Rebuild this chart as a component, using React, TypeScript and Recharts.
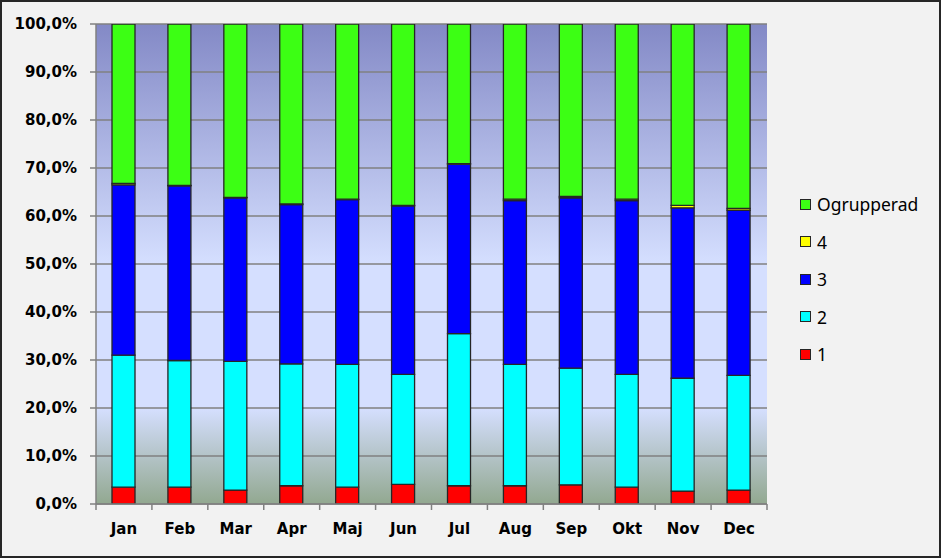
import React from "react";
import { BarChart, Bar, XAxis, YAxis, CartesianGrid } from "recharts";

const months = ["Jan", "Feb", "Mar", "Apr", "Maj", "Jun", "Jul", "Aug", "Sep", "Okt", "Nov", "Dec"];
const grp1 = [3.5, 3.5, 2.9, 3.8, 3.5, 4.1, 3.8, 3.8, 4.0, 3.5, 2.7, 2.9];
const grp2 = [27.5, 26.4, 26.8, 25.4, 25.6, 22.9, 31.7, 25.3, 24.3, 23.5, 23.5, 23.9];
const grp3 = [35.5, 36.4, 34.1, 33.2, 34.3, 35.1, 35.3, 34.1, 35.5, 36.2, 35.5, 34.4];
const grp4 = [0.3, 0.1, 0.1, 0.1, 0.1, 0.1, 0.1, 0.3, 0.3, 0.3, 0.5, 0.4];
const ogrupperad = [33.2, 33.6, 36.1, 37.5, 36.5, 37.8, 29.1, 36.5, 35.9, 36.5, 37.8, 38.4];
const yTicks = [0, 10, 20, 30, 40, 50, 60, 70, 80, 90, 100];

const series = [
  { key: "g1", name: "1", color: "#ff0000", values: grp1 },
  { key: "g2", name: "2", color: "#00ffff", values: grp2 },
  { key: "g3", name: "3", color: "#0000ff", values: grp3 },
  { key: "g4", name: "4", color: "#ffff00", values: grp4 },
  { key: "og", name: "Ogrupperad", color: "#3cff14", values: ogrupperad },
];

const data = months.map((m, i) => {
  const row: Record<string, string | number> = { month: m };
  series.forEach((s) => (row[s.key] = s.values[i]));
  return row;
});

const W = 941;
const H = 558;
const PLOT_W = 671;
const labelFont = "'DejaVu Sans', Verdana, sans-serif";

const fmt = (v: number) => `${v.toFixed(1).replace(".", ",")}%`;

function MonthTick(props: any) {
  const { x, y, payload, index } = props;
  const half = PLOT_W / months.length / 2;
  return (
    <g>
      <line x1={x - half} x2={x - half} y1={y - 8} y2={y - 2} stroke="#808080" strokeWidth={1.5} />
      {index === months.length - 1 && (
        <line x1={x + half} x2={x + half} y1={y - 8} y2={y - 2} stroke="#808080" strokeWidth={1.5} />
      )}
      <text x={x} y={y + 22} textAnchor="middle" fontFamily={labelFont} fontWeight="bold" fontSize={15} fill="#000">
        {payload.value}
      </text>
    </g>
  );
}

export default function App() {
  return (
    <div style={{ position: "relative", width: W, height: H, background: "#f2f2f2" }}>
      <style>{"body{margin:0}"}</style>
      <BarChart
        width={W}
        height={H}
        data={data}
        margin={{ top: 24, right: 174, bottom: 24, left: 0 }}
        barSize={23}
      >
        <defs>
          <linearGradient id="plotBg" x1="0" y1="0" x2="0" y2="1">
            <stop offset="0" stopColor="#8389c6" />
            <stop offset="0.5" stopColor="#d5dfff" />
            <stop offset="0.8" stopColor="#d5dfff" />
            <stop offset="1" stopColor="#92a890" />
          </linearGradient>
        </defs>
        <CartesianGrid vertical={false} stroke="#808080" strokeWidth={1.5} fill="url(#plotBg)" fillOpacity={1} />
        <XAxis
          dataKey="month"
          height={30}
          axisLine={{ stroke: "#808080", strokeWidth: 1.5 }}
          tickLine={false}
          tick={<MonthTick />}
          interval={0}
        />
        <YAxis
          width={96}
          domain={[0, 100]}
          ticks={yTicks}
          allowDataOverflow
          tickFormatter={fmt}
          axisLine={{ stroke: "#808080", strokeWidth: 1.5 }}
          tickLine={{ stroke: "#808080", strokeWidth: 1.5 }}
          tickSize={6}
          tickMargin={13}
          tick={{ fontFamily: labelFont, fontWeight: "bold", fontSize: 15, fill: "#000" }}
        />
        <YAxis
          yAxisId="frame"
          orientation="right"
          width={0}
          tick={false}
          tickLine={false}
          axisLine={{ stroke: "#262626", strokeWidth: 1.5 }}
        />
        {series.map((s) => (
          <Bar
            key={s.key}
            dataKey={s.key}
            name={s.name}
            stackId="a"
            fill={s.color}
            stroke="#262626"
            strokeWidth={1.3}
            isAnimationActive={false}
          />
        ))}
      </BarChart>
      <div style={{ position: "absolute", left: 800, top: 193 }}>
        {[...series].reverse().map((s) => (
          <div
            key={s.key}
            style={{
              display: "flex",
              alignItems: "center",
              height: 22,
              marginBottom: 15.6,
              fontFamily: "'Noto Sans', 'Open Sans', sans-serif",
              fontSize: 17.5,
              color: "#000",
            }}
          >
            <span
              style={{
                display: "inline-block",
                width: 9,
                height: 9,
                border: "1px solid #262626",
                background: s.color,
                marginRight: 6,
              }}
            />
            {s.name}
          </div>
        ))}
      </div>
      <div
        style={{
          position: "absolute",
          left: 0,
          top: 0,
          width: W,
          height: H,
          boxSizing: "border-box",
          border: "2px solid #262626",
          pointerEvents: "none",
        }}
      />
    </div>
  );
}
